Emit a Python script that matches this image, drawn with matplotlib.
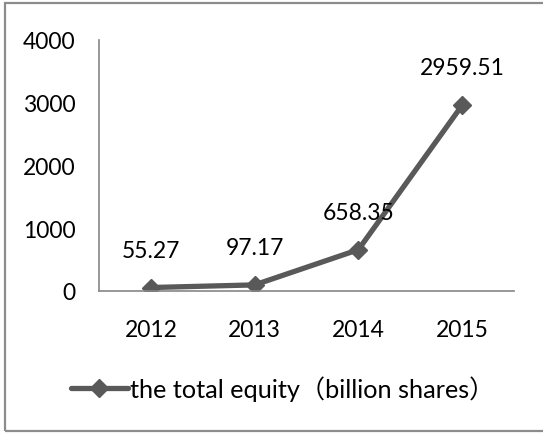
import matplotlib.pyplot as plt
from matplotlib.lines import Line2D
from matplotlib.patches import Rectangle

plt.rcParams["font.family"] = ["Lato", "Noto Sans CJK SC", "DejaVu Sans"]

years = ["2012", "2013", "2014", "2015"]
equity = [55.27, 97.17, 658.35, 2959.51]
value_labels = ["55.27", "97.17", "658.35", "2959.51"]
series_name = "the total equity\uff08billion shares\uff09"

LINE = "#595959"
AXIS = "#868686"
W, H = 543, 435

fig = plt.figure(figsize=(W / 100, H / 100), dpi=100)
ax = fig.add_axes([99 / W, 1 - 292 / H, (514 - 99) / W, (292 - 41) / H])

xs = list(range(len(years)))
ax.plot(xs, equity, color=LINE, lw=3.8, marker="D", markersize=9.5,
        markeredgecolor=LINE, markerfacecolor=LINE, solid_joinstyle="round")

for x, v, lab in zip(xs, equity, value_labels):
    ax.annotate(lab, xy=(x, v), xytext=(0, 27), textcoords="offset points",
                ha="center", va="center", fontsize=16.5, color="black")

ax.set_xlim(-0.5, 3.5)
ax.set_ylim(0, 4000)
ax.set_yticks([0, 1000, 2000, 3000, 4000])
ax.set_xticks(xs)
ax.set_xticklabels(years)
ax.tick_params(axis="both", length=0, labelsize=16.5)
ax.tick_params(axis="y", pad=17)
ax.tick_params(axis="x", pad=20)
for side in ("top", "right"):
    ax.spines[side].set_visible(False)
for side in ("left", "bottom"):
    ax.spines[side].set_color(AXIS)
    ax.spines[side].set_linewidth(1.2)

handle = Line2D([], [], color=LINE, lw=3.8, marker="D", markersize=9.5,
                markeredgecolor=LINE, markerfacecolor=LINE,
                solid_capstyle="round")
fig.legend([handle], [series_name], loc="center left",
           bbox_to_anchor=(71 / W, 1 - 389 / H), frameon=False,
           fontsize=18.2, handlelength=2.25, handletextpad=0.1,
           borderaxespad=0, borderpad=0)

# outer chart frame (right side runs off the picture)
fig.patches.append(Rectangle((5 / W, 1 - 432 / H), 560 / W, 428 / H,
                             transform=fig.transFigure, fill=False,
                             edgecolor="#8c8c8c", lw=1.6))

fig.savefig("out.png", dpi=100)
